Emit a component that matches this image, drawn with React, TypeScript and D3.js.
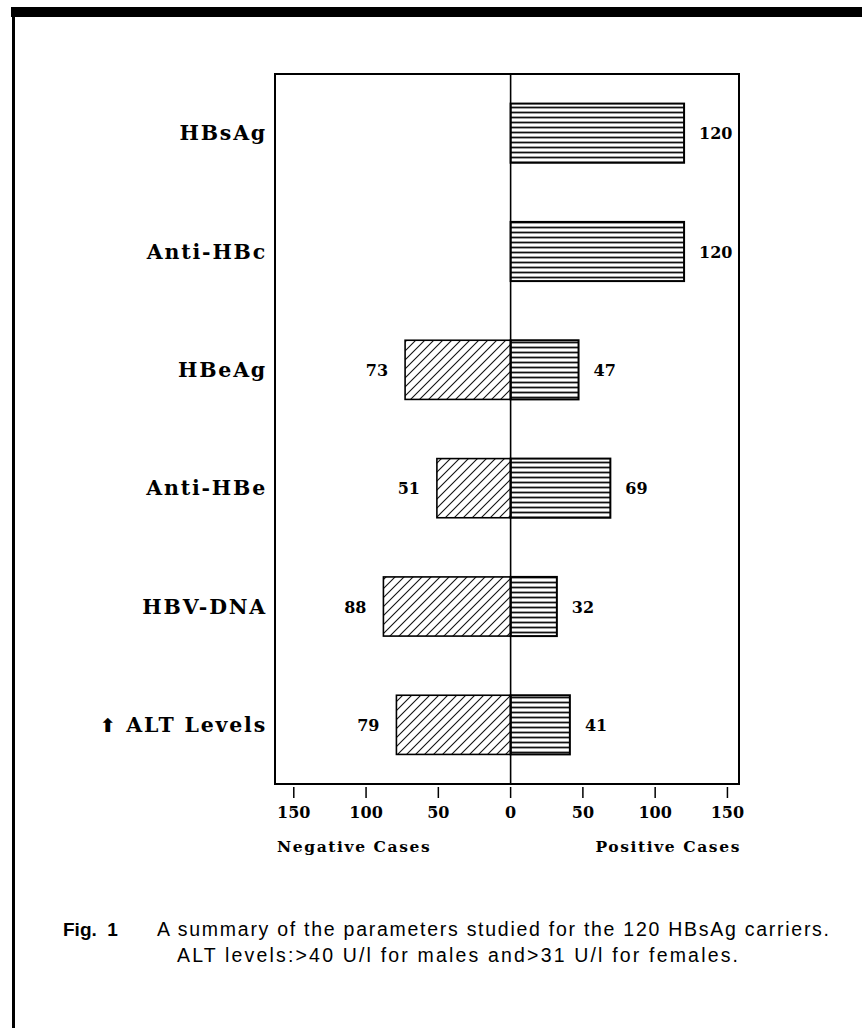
import React, { useEffect, useRef } from 'react';
import * as d3 from 'd3';

const categories = ['HBsAg', 'Anti-HBc', 'HBeAg', 'Anti-HBe', 'HBV-DNA', 'ALT Levels'];
const negativeCases = [0, 0, 73, 51, 88, 79];
const positiveCases = [120, 120, 47, 69, 32, 41];
const tickValues = [-150, -100, -50, 0, 50, 100, 150];
const captionLines = [
  'A summary of the parameters studied for the 120 HBsAg carriers.',
  'ALT levels:>40  U/l for males and>31 U/l for females.',
];

const SERIF = "'DejaVu Serif', serif";
const SANS = "'Liberation Sans', Arial, sans-serif";

const App = () => {
  const svgRef = useRef<SVGSVGElement>(null);

  useEffect(() => {
    const svg = d3.select(svgRef.current);
    svg.selectAll('*').remove();

    const left = 275, right = 739, top = 74, bottom = 784;

    const x = d3.scaleLinear().domain([-163, 158]).range([left, right]);
    const y = d3.scaleBand<string>()
      .domain(categories)
      .range([top, bottom])
      .paddingInner(0.5)
      .paddingOuter(0.25);

    // hachures
    const defs = svg.append('defs');
    const diag = defs.append('pattern')
      .attr('id', 'diag')
      .attr('patternUnits', 'userSpaceOnUse')
      .attr('width', 9)
      .attr('height', 9);
    diag.append('path')
      .attr('d', 'M0,9 L9,0 M-2,2 L2,-2 M7,11 L11,7')
      .attr('stroke', '#111')
      .attr('stroke-width', 1.1);
    const horiz = defs.append('pattern')
      .attr('id', 'horiz')
      .attr('patternUnits', 'userSpaceOnUse')
      .attr('width', 10)
      .attr('height', 5);
    horiz.append('line')
      .attr('x1', 0).attr('x2', 10)
      .attr('y1', 2.5).attr('y2', 2.5)
      .attr('stroke', '#111')
      .attr('stroke-width', 1.8);

    // page border
    svg.append('rect')
      .attr('x', 11).attr('y', 7)
      .attr('width', 851).attr('height', 10)
      .attr('fill', '#000');
    svg.append('line')
      .attr('x1', 13.5).attr('x2', 13.5)
      .attr('y1', 10).attr('y2', 1028)
      .attr('stroke', '#000')
      .attr('stroke-width', 3);

    // frame
    svg.append('rect')
      .attr('x', left).attr('y', top)
      .attr('width', right - left).attr('height', bottom - top)
      .attr('fill', 'none')
      .attr('stroke', '#000')
      .attr('stroke-width', 2);

    const rows = categories.map((c, i) => ({ c, neg: negativeCases[i], pos: positiveCases[i] }));

    // negative bars
    svg.selectAll('rect.neg')
      .data(rows.filter(d => d.neg > 0))
      .enter()
      .append('rect')
      .attr('class', 'neg')
      .attr('x', d => x(-d.neg))
      .attr('y', d => y(d.c)!)
      .attr('width', d => x(0) - x(-d.neg))
      .attr('height', y.bandwidth())
      .attr('fill', 'url(#diag)')
      .attr('stroke', '#000')
      .attr('stroke-width', 1.6);

    // positive bars
    svg.selectAll('rect.pos')
      .data(rows)
      .enter()
      .append('rect')
      .attr('class', 'pos')
      .attr('x', x(0))
      .attr('y', d => y(d.c)!)
      .attr('width', d => x(d.pos) - x(0))
      .attr('height', y.bandwidth())
      .attr('fill', 'url(#horiz)')
      .attr('stroke', '#000')
      .attr('stroke-width', 2);

    // zero line
    svg.append('line')
      .attr('x1', x(0)).attr('x2', x(0))
      .attr('y1', top).attr('y2', bottom)
      .attr('stroke', '#000')
      .attr('stroke-width', 1.6);

    // value labels
    svg.selectAll('text.negval')
      .data(rows.filter(d => d.neg > 0))
      .enter()
      .append('text')
      .attr('x', d => x(-d.neg) - 17)
      .attr('y', d => y(d.c)! + y.bandwidth() / 2 + 6)
      .attr('text-anchor', 'end')
      .attr('font-family', SERIF)
      .attr('font-weight', 'bold')
      .attr('font-size', 16)
      .text(d => d.neg);

    svg.selectAll('text.posval')
      .data(rows)
      .enter()
      .append('text')
      .attr('x', d => x(d.pos) + 15)
      .attr('y', d => y(d.c)! + y.bandwidth() / 2 + 6)
      .attr('font-family', SERIF)
      .attr('font-weight', 'bold')
      .attr('font-size', 16)
      .text(d => d.pos);

    // category labels
    const cat = svg.selectAll('text.cat')
      .data(categories)
      .enter()
      .append('text')
      .attr('x', 267)
      .attr('y', d => y(d)! + y.bandwidth() / 2 + 7)
      .attr('text-anchor', 'end')
      .attr('font-family', SERIF)
      .attr('font-weight', 'bold')
      .attr('font-size', 20.5)
      .attr('letter-spacing', 1.8);
    cat.filter(d => d === 'ALT Levels')
      .append('tspan')
      .attr('font-family', "'DejaVu Sans', sans-serif")
      .attr('font-size', 19)
      .text('⬆ ');
    cat.append('tspan').text(d => d);

    // ticks
    svg.selectAll('line.tick')
      .data(tickValues)
      .enter()
      .append('line')
      .attr('x1', d => x(d)).attr('x2', d => x(d))
      .attr('y1', bottom + 3).attr('y2', bottom + 14)
      .attr('stroke', '#000')
      .attr('stroke-width', 1.5);
    svg.selectAll('text.tick')
      .data(tickValues)
      .enter()
      .append('text')
      .attr('x', d => x(d))
      .attr('y', 818)
      .attr('text-anchor', 'middle')
      .attr('font-family', SERIF)
      .attr('font-weight', 'bold')
      .attr('font-size', 16)
      .text(d => Math.abs(d));

    svg.append('text')
      .attr('x', 277).attr('y', 852)
      .attr('font-family', SERIF)
      .attr('font-weight', 'bold')
      .attr('font-size', 15.5)
      .attr('letter-spacing', 1.6)
      .text('Negative Cases');
    svg.append('text')
      .attr('x', 741).attr('y', 852)
      .attr('text-anchor', 'end')
      .attr('font-family', SERIF)
      .attr('font-weight', 'bold')
      .attr('font-size', 15.5)
      .attr('letter-spacing', 1.6)
      .text('Positive Cases');

    // caption
    svg.append('text')
      .attr('x', 63).attr('y', 936)
      .attr('font-family', SANS)
      .attr('font-weight', 'bold')
      .attr('font-size', 19)
      .attr('xml:space', 'preserve')
      .text('Fig.  1');
    svg.append('text')
      .attr('x', 157).attr('y', 936)
      .attr('font-family', SANS)
      .attr('font-size', 19.5)
      .attr('textLength', 672)
      .attr('lengthAdjust', 'spacing')
      .text(captionLines[0]);
    svg.append('text')
      .attr('x', 177).attr('y', 962)
      .attr('font-family', SANS)
      .attr('font-size', 19.5)
      .attr('textLength', 561)
      .attr('lengthAdjust', 'spacing')
      .text(captionLines[1]);
  }, []);

  return (
    <svg
      ref={svgRef}
      width={862}
      height={1028}
      style={{ position: 'absolute', left: 0, top: 0, background: '#fff' }}
    ></svg>
  );
};

export default App;
